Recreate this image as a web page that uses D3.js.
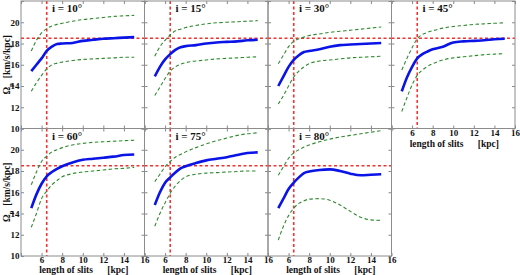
<!DOCTYPE html>
<html>
<head>
<meta charset="utf-8">
<script src="https://cdn.jsdelivr.net/npm/d3@7/dist/d3.min.js"></script>
<style>
    body { margin: 0; background: #fff; }
    text { font-family: "Liberation Serif", "DejaVu Serif", serif; font-weight: bold; fill: #111; }
</style>
</head>
<body>
<div id="chart"></div>
<script>
/*
* Pattern speed against slit length, one panel per inclination
*/

// slit lengths [kpc] where the curves are sampled
var slitLength = [5, 5.5, 6, 6.5, 7, 7.5, 8, 9, 10, 11, 12, 13, 14, 15];

var inclinations = [10, 15, 30, 45, 60, 75, 80];

// measured pattern speed (blue)
var omegaMean = [
    [15.4, 16.0, 16.6, 17.3, 17.7, 17.95, 18.0, 18.05, 18.25, 18.35, 18.45, 18.5, 18.55, 18.6],
    [14.9, 15.8, 16.5, 17.0, 17.4, 17.65, 17.75, 17.85, 18.0, 18.1, 18.15, 18.2, 18.3, 18.35],
    [14.0, 14.9, 15.8, 16.45, 16.9, 17.2, 17.3, 17.45, 17.7, 17.85, 17.9, 17.95, 18.0, 18.05],
    [13.5, 14.8, 15.8, 16.6, 17.0, 17.25, 17.45, 17.7, 18.1, 18.2, 18.25, 18.3, 18.4, 18.45],
    [14.5, 15.8, 16.8, 17.5, 17.9, 18.2, 18.45, 18.8, 19.05, 19.15, 19.25, 19.35, 19.5, 19.55],
    [14.8, 16.0, 16.9, 17.4, 17.85, 18.25, 18.45, 18.75, 19.0, 19.15, 19.3, 19.5, 19.7, 19.75],
    [14.5, 15.4, 16.3, 16.9, 17.4, 17.8, 17.95, 18.1, 18.15, 18.0, 17.75, 17.6, 17.65, 17.7]
];

// upper and lower envelopes (green dashed)
var omegaUpper = [
    [17.3, 18.3, 19.0, 19.4, 19.65, 19.8, 19.9, 20.1, 20.25, 20.35, 20.45, 20.55, 20.6, 20.65],
    [16.8, 17.7, 18.3, 18.8, 19.2, 19.35, 19.5, 19.7, 19.85, 19.95, 20.0, 20.05, 20.1, 20.15],
    [16.1, 16.9, 17.7, 18.2, 18.45, 18.6, 18.75, 18.9, 19.05, 19.15, 19.25, 19.35, 19.45, 19.55],
    [15.5, 16.6, 17.6, 18.45, 18.85, 19.05, 19.2, 19.45, 19.6, 19.7, 19.8, 19.85, 19.9, 19.95],
    [16.7, 17.9, 18.9, 19.4, 19.8, 20.0, 20.2, 20.45, 20.6, 20.7, 20.75, 20.8, 20.85, 20.9],
    [17.0, 17.7, 18.4, 18.9, 19.3, 19.55, 19.8, 20.2, 20.55, 20.85, 21.1, 21.35, 21.5, 21.6],
    [17.6, 18.4, 19.2, 19.7, 20.0, 20.25, 20.45, 20.75, 21.0, 21.2, 21.35, 21.5, 21.65, 21.8]
];
var omegaLower = [
    [13.5, 14.3, 15.0, 15.6, 16.0, 16.15, 16.25, 16.4, 16.5, 16.55, 16.6, 16.65, 16.7, 16.7],
    [13.1, 13.9, 14.7, 15.4, 15.8, 16.05, 16.2, 16.35, 16.45, 16.55, 16.6, 16.65, 16.7, 16.75],
    [12.3, 13.1, 14.0, 14.85, 15.4, 15.8, 16.1, 16.35, 16.45, 16.55, 16.65, 16.7, 16.75, 16.8],
    [11.6, 12.9, 14.1, 15.0, 15.5, 15.85, 16.1, 16.45, 16.65, 16.75, 16.85, 16.95, 17.0, 17.05],
    [12.7, 14.0, 15.4, 16.1, 16.7, 17.1, 17.45, 17.75, 17.9, 18.0, 18.1, 18.2, 18.25, 18.35],
    [12.8, 14.0, 15.0, 15.9, 16.6, 17.1, 17.45, 17.7, 17.8, 17.85, 17.9, 17.95, 18.0, 18.0],
    [11.5, 12.8, 13.8, 14.5, 14.95, 15.2, 15.35, 15.4, 15.25, 14.8, 14.2, 13.65, 13.4, 13.35]
];

// reference values (red dotted lines)
var refOmega = 18.5;
var refLength = 6.5;

var xTicks = [4, 6, 8, 10, 12, 14, 16];
var yTicks = [10, 12, 14, 16, 18, 20, 22];

var panelW = 123.5, panelH = 127.5, marginLeft = 21, marginTop = 1;

var svg = d3.select("#chart")
    .append("svg")
    .attr("width", 520)
    .attr("height", 275);

// draws one panel, k = 0..6
function drawPanel(k) {
    var col = k < 4 ? k : k - 4;
    var row = k < 4 ? 0 : 1;
    var x0 = marginLeft + col * panelW;
    var y0 = marginTop + row * panelH;

    var x = d3.scaleLinear().domain([4, 16]).range([0, panelW]);
    var y = d3.scaleLinear().domain([10, 22]).range([panelH, 0]);

    var g = svg.append("g")
        .attr("transform", "translate(" + x0 + "," + y0 + ")");

    g.append("clipPath").attr("id", "clip" + k)
        .append("rect").attr("width", panelW).attr("height", panelH);

    var plot = g.append("g").attr("clip-path", "url(#clip" + k + ")");

    // red reference lines
    plot.append("line")
        .attr("x1", 0).attr("x2", panelW)
        .attr("y1", y(refOmega)).attr("y2", y(refOmega))
        .style("stroke", "#ee3333").style("stroke-width", 1.6)
        .style("stroke-dasharray", "3,2.5");
    plot.append("line")
        .attr("x1", x(refLength)).attr("x2", x(refLength))
        .attr("y1", 0).attr("y2", panelH)
        .style("stroke", "#ee3333").style("stroke-width", 1.6)
        .style("stroke-dasharray", "3,2.5");

    var line = d3.line()
        .x(function (d, i) { return x(slitLength[i]); })
        .y(function (d) { return y(d); })
        .curve(d3.curveMonotoneX);

    [omegaUpper[k], omegaLower[k]].forEach(function (s) {
        plot.append("path")
            .attr("d", line(s))
            .style("fill", "none")
            .style("stroke", "#2f8a2f")
            .style("stroke-width", 1.1)
            .style("stroke-dasharray", "3.5,2.5");
    });

    plot.append("path")
        .attr("d", line(omegaMean[k]))
        .style("fill", "none")
        .style("stroke", "#0a14e6")
        .style("stroke-width", 2.6);

    // axes: small inward ticks, labels only on the outer panels
    var showX = (row === 1 || k === 3);
    var showY = (col === 0);

    var xAxis = d3.axisBottom(x).tickValues(xTicks).tickSizeInner(-3).tickSizeOuter(0).tickPadding(1)
        .tickFormat(function (d) { return (showX && d > 4) ? d : ""; });
    var yAxis = d3.axisLeft(y).tickValues(yTicks).tickSizeInner(-3).tickSizeOuter(0).tickPadding(1.5)
        .tickFormat(function (d) { return (showY && d < 22) ? d : ""; });

    g.append("g").attr("transform", "translate(0," + panelH + ")").call(xAxis);
    g.append("g").call(yAxis);
    g.append("g").call(d3.axisTop(x).tickValues(xTicks).tickSizeInner(-3).tickSizeOuter(0).tickFormat(""));
    g.append("g").attr("transform", "translate(" + panelW + ",0)")
        .call(d3.axisRight(y).tickValues(yTicks).tickSizeInner(-3).tickSizeOuter(0).tickFormat(""));

    g.selectAll(".domain").remove();
    g.selectAll(".tick line").style("stroke", "#888");
    g.selectAll(".tick text")
        .style("font-family", "Liberation Serif, serif")
        .style("font-weight", "bold")
        .style("font-size", "9px")
        .style("fill", "#111");

    g.append("rect")
        .attr("width", panelW).attr("height", panelH)
        .style("fill", "none").style("stroke", "#8c8c8c").style("stroke-width", 1);

    g.append("text")
        .attr("x", x(7)).attr("y", 11)
        .style("font-size", "11px")
        .text("i = " + inclinations[k] + "°");

    if (showX) {
        g.append("text")
            .attr("x", panelW / 2 + 1).attr("y", panelH + (row === 1 ? 16.5 : 18))
            .attr("text-anchor", "middle")
            .style("font-size", "9.5px")
            .style("white-space", "pre")
            .text("length of slits      [kpc]");
    }

    if (showY) {
        var t = g.append("text")
            .attr("transform", "translate(" + (-11) + "," + (panelH / 2) + ") rotate(-90)")
            .attr("text-anchor", "middle")
            .style("font-size", "9.5px")
            .style("white-space", "pre");
        t.append("tspan").text("Ω");
        t.append("tspan").attr("dy", 2.5).style("font-size", "7px").text("p");
        t.append("tspan").attr("dy", -2.5).text("  [km/s/kpc]");
    }
}

for (var k = 0; k < inclinations.length; k++) {
    drawPanel(k);
}
</script>
</body>
</html>
